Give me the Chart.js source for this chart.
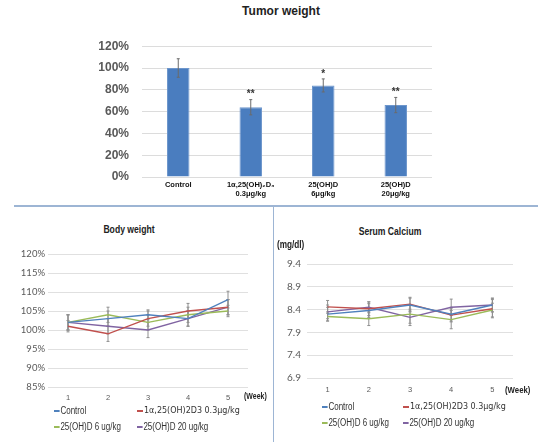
<!DOCTYPE html>
<html>
<head>
<meta charset="utf-8">
<script src="https://cdn.jsdelivr.net/npm/chart.js@4.4.1/dist/chart.umd.min.js"></script>
<style>
  body { margin: 0; background: #fff; }
  #page { position: relative; width: 550px; height: 442px; overflow: hidden;
          font-family: "Liberation Sans", sans-serif; color: #222; }
  .box { position: absolute; }
  .txt { position: absolute; white-space: nowrap; line-height: 1; }
  .ctr { transform: translate(-50%, -50%); }
  .ctr.nar { transform: translate(-50%, -50%) scaleX(0.82); }
  .mid { transform: translateY(-50%); }
  .mid.nar { transform-origin: left center; transform: translateY(-50%) scaleX(0.82); }
  .rule { position: absolute; background: #9db5d4; }
  .leg { position: absolute; white-space: nowrap; line-height: 1; font-size: 10px; color: #333;
         transform-origin: left center; transform: translateY(-50%) scaleX(0.8);
         display: flex; align-items: center; }
  .leg i { display: inline-block; width: 7px; height: 1.5px; margin-right: 1px; }
  .leg.wide { font-family: "DejaVu Sans", sans-serif; font-size: 8px; transform: translateY(-50%); }
  .leg.wide i { width: 6px; }
</style>
</head>
<body>
<div id="page">
  <div class="txt ctr" style="left:281px;top:11px;font-weight:bold;font-size:12px;">Tumor weight</div>
  <div class="box" style="left:90px;top:26px;width:350px;height:180px;"><canvas id="tumorChart"></canvas></div>

  <div class="rule" style="left:14px;top:205px;width:524px;height:1.5px;"></div>
  <div class="rule" style="left:272.5px;top:206px;width:1.2px;height:236px;"></div>

  <div class="txt ctr nar" style="left:129px;top:229px;font-weight:bold;font-size:10.5px;">Body weight</div>
  <div class="box" style="left:0px;top:245px;width:270px;height:160px;"><canvas id="bodyChart"></canvas></div>
  <div class="txt mid nar" style="left:244px;top:396px;font-weight:bold;font-size:8.5px;">(Week)</div>
  <div id="bodyLegend"></div>

  <div class="txt ctr nar" style="left:390px;top:231px;font-weight:bold;font-size:10.5px;">Serum Calcium</div>
  <div class="txt mid nar" style="left:277px;top:245px;font-weight:bold;font-size:10px;">(mg/dl)</div>
  <div class="box" style="left:278px;top:250px;width:270px;height:150px;"><canvas id="calciumChart"></canvas></div>
  <div class="txt mid nar" style="left:505px;top:390px;font-weight:bold;font-size:9.5px;">(Week)</div>
  <div id="calciumLegend"></div>
</div>

<script>
// ── Data ─────────────────────────────────────────────
const GROUPS = [['Control'], ['1α,25(OH)₂D₃', '0.3μg/kg'], ['25(OH)D', '6μg/kg'], ['25(OH)D', '20μg/kg']];
const TUMOR = [100, 64, 84, 66];
const TUMOR_ERR = [8.5, 7, 6, 7];
const TUMOR_SIG = ['', '**', '*', '**'];
const TUMOR_TICKS = [0, 20, 40, 60, 80, 100, 120];

const WEEKS = ['1', '2', '3', '4', '5'];
const SERIES = ['Control', '1α,25(OH)2D3 0.3μg/kg', '25(OH)D 6 ug/kg', '25(OH)D 20 ug/kg'];
const COLORS = ['#4f81bd', '#c0504d', '#9bbb59', '#8064a2'];

const BW_CONTROL = [102, 103, 104, 103, 108];
const BW_CALCITRIOL = [101, 99, 103, 105, 106];
const BW_D6 = [102, 104, 102, 104, 105];
const BW_D20 = [102, 101, 100, 103, 106];
const BW_CONTROL_ERR = [2, 2, 1.3, 2, 2.2];
const BW_CALCITRIOL_ERR = [1.5, 2, 2, 2, 2];
const BW_D6_ERR = [2, 2, 2, 2, 1.5];
const BW_D20_ERR = [2, 2, 2, 2, 2];

const CA_CONTROL = [8.30, 8.38, 8.50, 8.30, 8.50];
const CA_CALCITRIOL = [8.46, 8.42, 8.52, 8.28, 8.42];
const CA_D6 = [8.25, 8.20, 8.30, 8.18, 8.39];
const CA_D20 = [8.35, 8.45, 8.23, 8.45, 8.50];
const CA_CONTROL_ERR = [0.15, 0.15, 0.15, 0.15, 0.15];
const CA_CALCITRIOL_ERR = [0.14, 0.15, 0.15, 0.15, 0.2];
const CA_D6_ERR = [0.1, 0.15, 0.2, 0.2, 0.15];
const CA_D20_ERR = [0.15, 0.12, 0.18, 0.18, 0.15];

// ── Plugins ──────────────────────────────────────────
function drawErrors(chart, opts) {
  const { ctx, scales } = chart;
  ctx.save();
  ctx.strokeStyle = opts.color;
  ctx.lineWidth = opts.width || 1;
  chart.data.datasets.forEach((ds, di) => {
    if (!ds.errors) return;
    chart.getDatasetMeta(di).data.forEach((el, i) => {
      const v = ds.data[i], e = ds.errors[i];
      const top = scales.y.getPixelForValue(v + e);
      const bot = scales.y.getPixelForValue(v - e);
      ctx.beginPath();
      ctx.moveTo(el.x, top); ctx.lineTo(el.x, bot);
      ctx.moveTo(el.x - opts.cap, top); ctx.lineTo(el.x + opts.cap, top);
      ctx.moveTo(el.x - opts.cap, bot); ctx.lineTo(el.x + opts.cap, bot);
      ctx.stroke();
    });
  });
  ctx.restore();
}

const errorBarPlugin = {
  id: 'errorBars',
  beforeDatasetsDraw(chart, args, opts) { if (opts.behind) drawErrors(chart, opts); },
  afterDatasetsDraw(chart, args, opts) { if (!opts.behind) drawErrors(chart, opts); }
};

const sigPlugin = {
  id: 'sigMarks',
  afterDatasetsDraw(chart) {
    const { ctx, scales } = chart;
    const ds = chart.data.datasets[0];
    ctx.save();
    ctx.fillStyle = '#333';
    ctx.font = 'bold 10px "Liberation Sans", sans-serif';
    ctx.textAlign = 'center';
    ctx.textBaseline = 'middle';
    chart.getDatasetMeta(0).data.forEach((el, i) => {
      if (!TUMOR_SIG[i]) return;
      const top = scales.y.getPixelForValue(ds.data[i] + ds.errors[i]);
      ctx.fillText(TUMOR_SIG[i], el.x, top - 5);
    });
    ctx.restore();
  }
};

function fixWidth(w) { return scale => { scale.width = w; }; }
function fixHeight(h) { return scale => { scale.height = h; }; }

// ── Tumor weight bars ────────────────────────────────
new Chart(document.getElementById('tumorChart'), {
  type: 'bar',
  plugins: [errorBarPlugin, sigPlugin],
  data: {
    labels: GROUPS,
    datasets: [{
      data: TUMOR,
      errors: TUMOR_ERR,
      backgroundColor: '#4a7dbf',
      borderColor: '#6d96cc',
      borderWidth: 1,
      categoryPercentage: 0.31,
      barPercentage: 1
    }]
  },
  options: {
    responsive: true,
    maintainAspectRatio: false,
    animation: false,
    layout: { padding: { top: 10, right: 8, left: 0, bottom: 0 } },
    plugins: {
      legend: { display: false },
      tooltip: { enabled: false },
      errorBars: { color: '#6b6b6b', cap: 1.5, width: 1 }
    },
    scales: {
      x: {
        afterFit: fixHeight(29),
        grid: { display: false, drawTicks: false },
        border: { display: false },
        ticks: { padding: 3, color: '#111', maxRotation: 0,
                 font: { family: 'Liberation Sans', size: 7.5, weight: 'bold', lineHeight: 1.2 } }
      },
      y: {
        min: 0, max: 120,
        afterFit: fixWidth(52),
        afterBuildTicks: scale => { scale.ticks = TUMOR_TICKS.map(v => ({ value: v })); },
        grid: { color: '#dcdcdc', drawTicks: false },
        border: { display: false },
        ticks: { padding: 13, color: '#595959', callback: v => v + '%',
                 font: { family: 'Liberation Sans', size: 12, weight: 'bold' } }
      }
    }
  }
});

// ── Line charts ──────────────────────────────────────
function lineSet(values, errors, idx) {
  return { label: SERIES[idx], data: values, errors: errors, borderColor: COLORS[idx],
           borderWidth: 1.4, pointRadius: 0, tension: 0, fill: false };
}

function lineOptions(cfg) {
  return {
    responsive: true,
    maintainAspectRatio: false,
    animation: false,
    layout: { padding: cfg.padding },
    plugins: {
      legend: { display: false },
      tooltip: { enabled: false },
      errorBars: { color: '#8f8f8f', cap: 1.5, width: 1, behind: true }
    },
    scales: {
      x: {
        offset: true,
        afterFit: fixHeight(cfg.xHeight),
        grid: { display: false, drawTicks: false },
        border: { display: false },
        ticks: { padding: cfg.xPad, color: '#595959', font: { family: 'Liberation Sans', size: 7.5 } }
      },
      y: {
        min: cfg.min, max: cfg.max,
        afterFit: fixWidth(cfg.yWidth),
        afterBuildTicks: scale => { scale.ticks = cfg.ticks.map(v => ({ value: v })); },
        grid: { color: '#e0e0e0', drawTicks: false },
        border: { display: false },
        ticks: { padding: cfg.yPad, color: '#595959', callback: cfg.fmt,
                 font: { family: 'Lato', size: cfg.yFont } }
      }
    }
  };
}

const BW_TICKS = [85, 90, 95, 100, 105, 110, 115, 120];
new Chart(document.getElementById('bodyChart'), {
  type: 'line',
  plugins: [errorBarPlugin],
  data: {
    labels: WEEKS,
    datasets: [
      lineSet(BW_CONTROL, BW_CONTROL_ERR, 0),
      lineSet(BW_CALCITRIOL, BW_CALCITRIOL_ERR, 1),
      lineSet(BW_D6, BW_D6_ERR, 2),
      lineSet(BW_D20, BW_D20_ERR, 3)
    ]
  },
  options: lineOptions({
    padding: { top: 9, right: 22, left: 0, bottom: 0 },
    xHeight: 18, xPad: 6, yWidth: 48, yPad: 3, yFont: 9.5,
    min: 85, max: 120, ticks: BW_TICKS, fmt: v => v + '%'
  })
});

const CA_TICKS = [6.9, 7.4, 7.9, 8.4, 8.9, 9.4];
new Chart(document.getElementById('calciumChart'), {
  type: 'line',
  plugins: [errorBarPlugin],
  data: {
    labels: WEEKS,
    datasets: [
      lineSet(CA_CONTROL, CA_CONTROL_ERR, 0),
      lineSet(CA_CALCITRIOL, CA_CALCITRIOL_ERR, 1),
      lineSet(CA_D6, CA_D6_ERR, 2),
      lineSet(CA_D20, CA_D20_ERR, 3)
    ]
  },
  options: lineOptions({
    padding: { top: 14, right: 35, left: 0, bottom: 0 },
    xHeight: 22, xPad: 7, yWidth: 29, yPad: 6, yFont: 10,
    min: 6.9, max: 9.4, ticks: CA_TICKS, fmt: v => v.toFixed(1)
  })
});

// ── HTML legends ─────────────────────────────────────
function buildLegend(id, cols, rows) {
  const host = document.getElementById(id);
  SERIES.forEach((name, i) => {
    const item = document.createElement('div');
    item.className = 'leg' + (i === 1 ? ' wide' : '');
    item.style.left = cols[i % 2] + 'px';
    item.style.top = rows[Math.floor(i / 2)] + 'px';
    const mark = document.createElement('i');
    mark.style.background = COLORS[i];
    item.appendChild(mark);
    item.appendChild(document.createTextNode(name));
    host.appendChild(item);
  });
}
buildLegend('bodyLegend', [54, 137], [411, 427]);
buildLegend('calciumLegend', [322, 403], [407, 423]);
</script>
</body>
</html>
